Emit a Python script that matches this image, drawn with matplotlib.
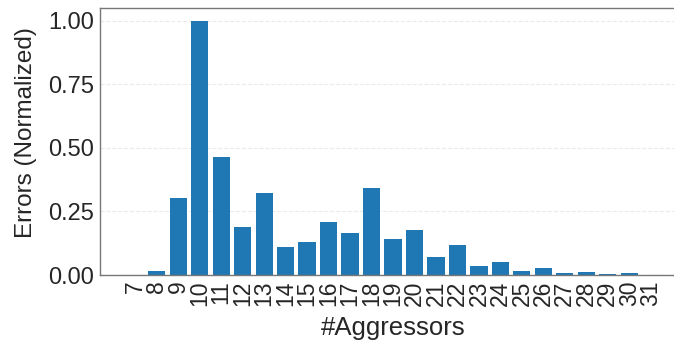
import matplotlib.pyplot as plt
import numpy as np

aggressors = list(range(7, 32))
errors = [0.0, 0.016, 0.303, 1.0, 0.465, 0.19, 0.323, 0.11, 0.13, 0.21,
          0.165, 0.343, 0.142, 0.177, 0.07, 0.118, 0.035, 0.05, 0.016, 0.028,
          0.006, 0.01, 0.002, 0.007, 0.0]

plt.rcParams['font.family'] = ['Liberation Sans', 'DejaVu Sans']

fig = plt.figure(figsize=(6.74, 3.41), dpi=100)
# axes runs a little past the right edge, like the cropped original
ax = fig.add_axes([100 / 674, 1 - 275 / 341, 586 / 674, 267 / 341])

ax.bar(aggressors, errors, width=0.8, color='#1f77b4', zorder=2)
ax.set_xticks(aggressors)
ax.set_xticklabels([str(a) for a in aggressors], rotation=90, fontsize=16.5, color='#262626')
ax.set_ylim(0, 1.05)
ax.set_yticks([0, 0.25, 0.5, 0.75, 1.0])
ax.set_yticklabels(['0.00', '0.25', '0.50', '0.75', '1.00'], fontsize=17, color='#262626')
ax.set_xlim(5.36, 32.64)

ax.set_xlabel('#Aggressors', fontsize=18.5, color='#262626', labelpad=7)
ax.set_ylabel('Errors (Normalized)', fontsize=17.5, color='#262626')
ax.yaxis.set_label_coords(-0.107, 0.534)

ax.yaxis.grid(True, color='#ebebeb', linestyle='--', linewidth=0.8, zorder=0)
ax.xaxis.grid(False)
for s in ax.spines.values():
    s.set_color('#777777')
    s.set_linewidth(1.0)
ax.tick_params(axis='both', length=0, pad=4)

fig.savefig('out.png', dpi=100)
